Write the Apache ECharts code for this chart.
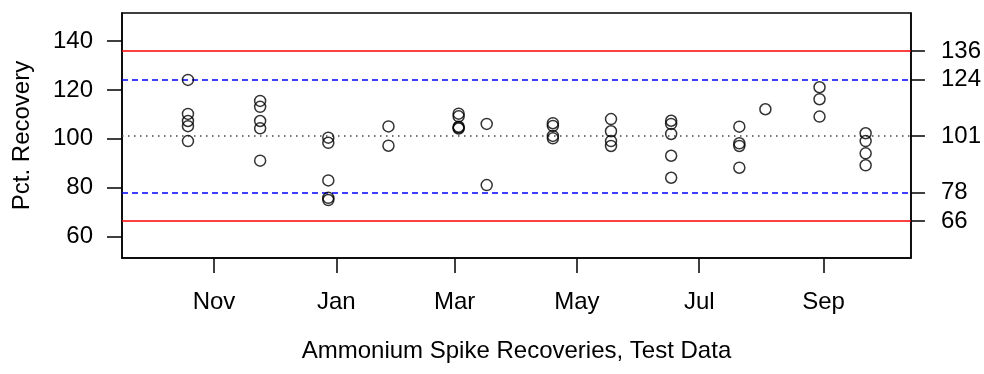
<!DOCTYPE html>
<html>
<head>
<meta charset="utf-8">
<script src="https://cdn.jsdelivr.net/npm/echarts@6/dist/echarts.min.js"></script>
<style>html,body{margin:0;padding:0;background:#fff;}#chart{width:984px;height:374px;}</style>
</head>
<body>
<div id="chart"></div>
<script>
// ---- data ----
const originDate = '2012-10-01';
const sampleDates = [
  '2012-10-19','2012-10-19','2012-10-19','2012-10-19','2012-10-19',
  '2012-11-24','2012-11-24','2012-11-24','2012-11-24','2012-11-24',
  '2012-12-28','2012-12-28','2012-12-28','2012-12-28','2012-12-28',
  '2013-01-27','2013-01-27',
  '2013-03-03','2013-03-03','2013-03-03','2013-03-03','2013-03-03',
  '2013-03-17','2013-03-17',
  '2013-04-19','2013-04-19','2013-04-19','2013-04-19',
  '2013-05-18','2013-05-18','2013-05-18','2013-05-18',
  '2013-06-17','2013-06-17','2013-06-17','2013-06-17','2013-06-17',
  '2013-07-21','2013-07-21','2013-07-21','2013-07-21',
  '2013-08-03',
  '2013-08-30','2013-08-30','2013-08-30',
  '2013-09-22','2013-09-22','2013-09-22','2013-09-22'
];
const recovery = [
  124.1, 110.2, 107.3, 105.2, 99.1,
  115.5, 113.1, 107.3, 104.3, 91.1,
  100.5, 98.4, 83.0, 75.9, 75.0,
  105.1, 97.2,
  110.3, 109.2, 105.0, 104.2, 104.6,
  106.1, 81.1,
  106.4, 105.3, 101.2, 100.2,
  108.1, 103.1, 99.1, 97.1,
  107.4, 106.1, 102.0, 93.1, 84.1,
  105.0, 98.2, 97.1, 88.2,
  112.1,
  121.1, 116.2, 109.1,
  102.3, 99.1, 94.1, 89.2
];
const controlLimits = [135.86, 124.29, 101.15, 78.01, 66.44]; // UCL, UWL, mean, LWL, LCL
const monthTickDates = ['2012-11-01','2013-01-01','2013-03-01','2013-05-01','2013-07-01','2013-09-01'];
const monthTickLabels = ['Nov','Jan','Mar','May','Jul','Sep'];
const yTicks = [60, 80, 100, 120, 140];
const axisStartDate = '2012-09-16';
const axisEndDate = '2013-10-14';

// ---- helpers ----
const dayMs = 86400000;
const t0 = Date.parse(originDate + 'T00:00:00Z');
const toDay = d => (Date.parse(d + 'T00:00:00Z') - t0) / dayMs;

const points = sampleDates.map((d, i) => [toDay(d), recovery[i]]);
const monthTickDays = monthTickDates.map(toDay);
const labelByDay = {};
monthTickDays.forEach((d, i) => { labelByDay[d] = monthTickLabels[i]; });

const FONT = "'Liberation Sans', Arial, sans-serif";
const chart = echarts.init(document.getElementById('chart'), null, {renderer: 'canvas'});

const lineStyles = [
  {color: '#ff0000', type: 'solid', width: 1.5},
  {color: '#0000ff', type: [6, 4], width: 1.5},
  {color: '#444444', type: [1.5, 4.5], width: 1.5},
  {color: '#0000ff', type: [6, 4], width: 1.5},
  {color: '#ff0000', type: 'solid', width: 1.5}
];
const axisLineStyle = {show: true, onZero: false, lineStyle: {color: '#000', width: 1.5}};

chart.setOption({
  animation: false,
  backgroundColor: '#ffffff',
  grid: {left: 122, right: 73, top: 13, bottom: 116, show: true, borderColor: '#000', borderWidth: 1.5, containLabel: false},
  xAxis: {
    type: 'value',
    min: toDay(axisStartDate) + 0.1,
    max: toDay(axisEndDate) + 0.6,
    name: 'Ammonium Spike Recoveries, Test Data',
    nameLocation: 'middle',
    nameGap: 81,
    nameTextStyle: {fontFamily: FONT, fontSize: 24, color: '#000'},
    axisLine: axisLineStyle,
    splitLine: {show: false},
    axisTick: {show: true, length: 15, inside: false, customValues: monthTickDays, lineStyle: {color: '#000', width: 1.5}},
    axisLabel: {show: true, customValues: monthTickDays, margin: 32, fontFamily: FONT, fontSize: 24, color: '#000',
      formatter: v => labelByDay[v] || ''}
  },
  yAxis: [
    {
      type: 'value', position: 'left', min: 51.3, max: 151.45,
      name: 'Pct. Recovery', nameLocation: 'middle', nameGap: 88, nameRotate: 90,
      nameTextStyle: {fontFamily: FONT, fontSize: 24, color: '#000'},
      axisLine: axisLineStyle, splitLine: {show: false},
      axisTick: {show: true, length: 15, inside: false, customValues: yTicks, lineStyle: {color: '#000', width: 1.5}},
      axisLabel: {show: true, customValues: yTicks, margin: 29, fontFamily: FONT, fontSize: 24, color: '#000'}
    },
    {
      type: 'value', position: 'right', min: 51.3, max: 151.45,
      axisLine: axisLineStyle, splitLine: {show: false},
      axisTick: {show: true, length: 14, inside: false, customValues: controlLimits, lineStyle: {color: '#000', width: 1.5}},
      axisLabel: {show: true, customValues: controlLimits, margin: 30, fontFamily: FONT, fontSize: 24, color: '#000',
        formatter: v => String(Math.round(v))}
    }
  ],
  series: [
    {
      type: 'line', data: [], silent: true, z: 1,
      markLine: {
        silent: true, symbol: ['none', 'none'], label: {show: false}, animation: false,
        data: controlLimits.map((v, i) => ({yAxis: v, lineStyle: lineStyles[i]}))
      }
    },
    {
      type: 'scatter', data: points, z: 5,
      symbol: 'circle', symbolSize: 11,
      itemStyle: {color: 'rgba(0,0,0,0)', borderColor: '#000', borderWidth: 1.5},
      emphasis: {disabled: true}
    }
  ]
});
</script>
</body>
</html>
